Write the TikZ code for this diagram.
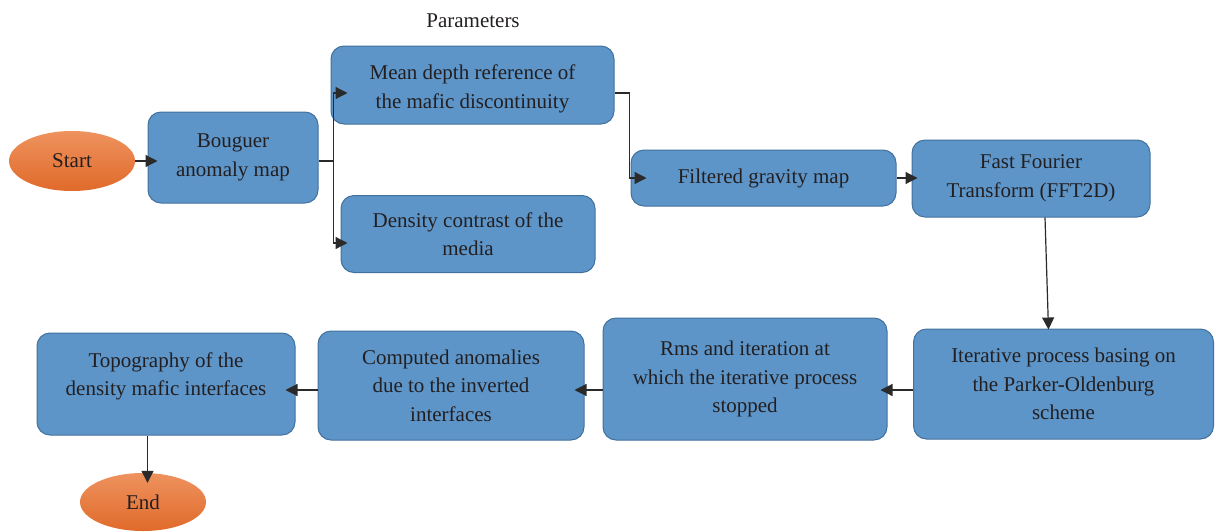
\documentclass[tikz,border=0pt]{standalone}
\usepackage{fontspec}
\setmainfont{Liberation Serif}
\usetikzlibrary{arrows.meta,shapes.geometric,calc}
\definecolor{boxfill}{HTML}{5D95C9}
\definecolor{boxline}{HTML}{41719C}
\definecolor{txt}{HTML}{231F20}
\definecolor{orTop}{HTML}{EE925E}
\definecolor{orBot}{HTML}{E06A2A}
\definecolor{wirec}{HTML}{2A2A2A}
\tikzset{
  box/.style={draw=boxline, line width=1pt, fill=boxfill, rounded corners=13pt,
    align=center, inner sep=0pt, text=txt, font=\fontsize{21}{28.5}\selectfont},
  term/.style={ellipse, top color=orTop, bottom color=orBot, draw=none, inner sep=0pt,
    text=txt, font=\fontsize{21}{28.5}\selectfont},
  conn/.style={line width=1.2pt, draw=wirec, -{Triangle[length=12pt,width=12pt]}},
  wire/.style={line width=1.2pt, draw=wirec},
  lbl/.style={text=txt, font=\fontsize{21}{28.5}\selectfont, inner sep=0pt, align=center}
}
\begin{document}
\begin{tikzpicture}[x=1pt,y=-1pt]
\useasboundingbox (0,0) rectangle (1216,531);
\node[lbl] (par) at (473,21) {Parameters};
\node[term, minimum width=126pt, minimum height=60pt] (start) at (72,161) {Start};
\node[box, minimum width=170pt, minimum height=91pt] (boug) at (233,157.5) {Bouguer\\anomaly map};
\node[box, minimum width=283pt, minimum height=78pt] (mean) at (472.5,85) {};
\node[lbl] (meantxt) at ($(mean)+(0,4)$) {Mean depth reference of\\the mafic discontinuity};
\node[box, minimum width=254pt, minimum height=77pt] (dens) at (468,234) {Density contrast of the\\media};
\node[box, minimum width=265pt, minimum height=56pt] (filt) at (763.5,178) {Filtered gravity map};
\node[box, minimum width=238pt, minimum height=77pt] (fft) at (1031,178.5) {Fast Fourier\\Transform (FFT2D)};
\node[box, minimum width=300pt, minimum height=110pt] (iter) at (1063.5,384) {Iterative process basing on\\the Parker-Oldenburg\\scheme};
\node[box, minimum width=284pt, minimum height=122pt] (rms) at (745,379) {Rms and iteration at\\which the iterative process\\stopped};
\node[box, minimum width=266pt, minimum height=109pt] (comp) at (451,385.5) {Computed anomalies\\due to the inverted\\interfaces};
\node[box, minimum width=258pt, minimum height=102pt, text depth=20pt] (topo) at (166,384) {Topography of the\\density mafic interfaces};
\node[term, minimum width=126pt, minimum height=58pt] (endn) at (143,502) {End};

\draw[conn] (start.east) -- ($(boug.west |- start.east)+(10,0)$);
\draw[wire] (boug.east |- start.east) -- ++(15,0) coordinate (br);
\draw[conn] (br) |- ($(mean.west)+(17,8)$);
\draw[conn] (br) |- ($(dens.west)+(7,9)$);
\draw[conn] ($(mean.east)+(0,8)$) -| ($(filt.west)+(-1,0)$) -- ($(filt.west)+(16,0)$);
\draw[conn] (filt.east) -- ($(fft.west |- filt.east)+(6,0)$);
\draw[conn] ($(fft.south)+(14,0)$) -- ($(iter.north)+(-15,1)$);
\draw[conn] ($(iter.west)+(0,6)$) -- ($(rms.east)+(-7,11)$);
\draw[conn] ($(rms.west)+(0,11)$) -- ($(comp.east)+(-10,4.5)$);
\draw[conn] ($(comp.west)+(0,4.5)$) -- ($(topo.east)+(-10,6)$);
\draw[conn] ($(topo.south)+(-18.5,0)$) -- ($(endn.north)+(4.5,10)$);
\end{tikzpicture}
\end{document}
